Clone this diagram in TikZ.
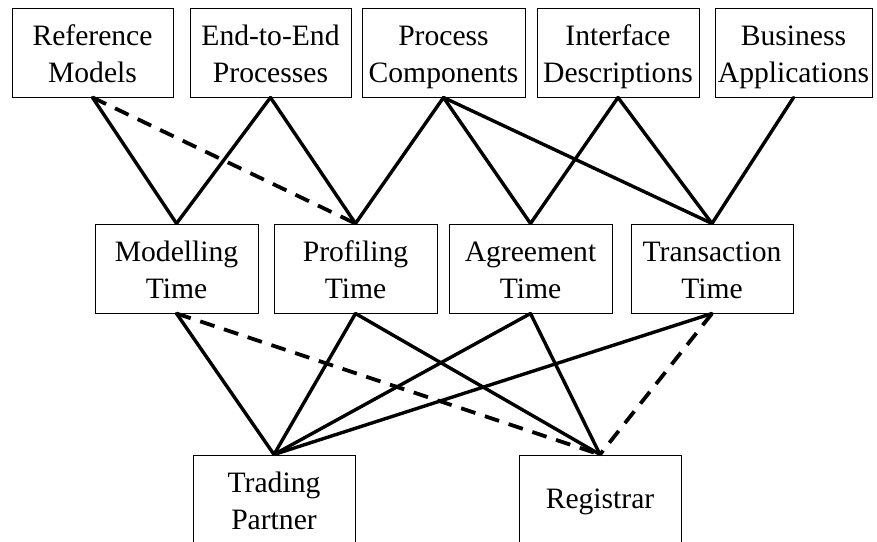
\documentclass[tikz,border=0pt]{standalone}
\usepackage{fontspec}
\setmainfont{Liberation Serif}
\newcommand\mystrut{\rule[-7pt]{0pt}{36pt}}
\begin{document}
\begin{tikzpicture}[x=1pt,y=-1pt,
  box/.style={draw,line width=1pt,rectangle,minimum height=89pt,align=center,inner sep=0pt,
    font=\fontsize{29.6}{37}\selectfont},
  conn/.style={line width=3.4pt,line cap=round},
  dconn/.style={line width=3.8pt,dash pattern=on 15pt off 10pt}]
\useasboundingbox (0,0) rectangle (877,541);
% top row
\node[box,minimum width=161pt] (ref) at (92.5,52.5) {\mystrut Reference\\\mystrut Models};
\node[box,minimum width=161pt] (e2e) at (270.5,52.5) {\mystrut End-to-End\\\mystrut Processes};
\node[box,minimum width=163pt] (pc) at (443.5,52.5) {\mystrut Process\\\mystrut Components};
\node[box,minimum width=162pt] (id) at (618,52.5) {\mystrut Interface\\\mystrut Descriptions};
\node[box,minimum width=157pt] (ba) at (793.5,52.5) {\mystrut Business\\\mystrut Applications};
% middle row
\node[box,minimum width=163pt] (mt) at (176.5,268.5) {\mystrut Modelling\\\mystrut Time};
\node[box,minimum width=163pt] (pt) at (355.5,268.5) {\mystrut Profiling\\\mystrut Time};
\node[box,minimum width=163pt] (at) at (530.5,268.5) {\mystrut Agreement\\\mystrut Time};
\node[box,minimum width=162pt] (tt) at (712,268.5) {\mystrut Transaction\\\mystrut Time};
% bottom row
\node[box,minimum width=162pt] (tp) at (274,499.5) {\mystrut Trading\\\mystrut Partner};
\node[box,minimum width=162pt] (reg) at (600,499.5) {\rule[-9pt]{0pt}{36pt}Registrar};
% top to middle
\draw[conn] (ref.south) -- (mt.north);
\draw[dconn] (ref.south) -- (pt.north);
\draw[conn] (e2e.south) -- (mt.north);
\draw[conn] (e2e.south) -- (pt.north);
\draw[conn] (pc.south) -- (pt.north);
\draw[conn] (pc.south) -- (at.north);
\draw[conn] (pc.south) -- (tt.north);
\draw[conn] (id.south) -- (at.north);
\draw[conn] (id.south) -- (tt.north);
\draw[conn] (ba.south) -- (tt.north);
% middle to bottom
\draw[conn] (mt.south) -- (tp.north);
\draw[dconn] (mt.south) -- (reg.north);
\draw[conn] (pt.south) -- (tp.north);
\draw[conn] (pt.south) -- (reg.north);
\draw[conn] (at.south) -- (tp.north);
\draw[conn] (at.south) -- (reg.north);
\draw[conn] (tt.south) -- (tp.north);
\draw[dconn] (tt.south) -- (reg.north);
\end{tikzpicture}
\end{document}
